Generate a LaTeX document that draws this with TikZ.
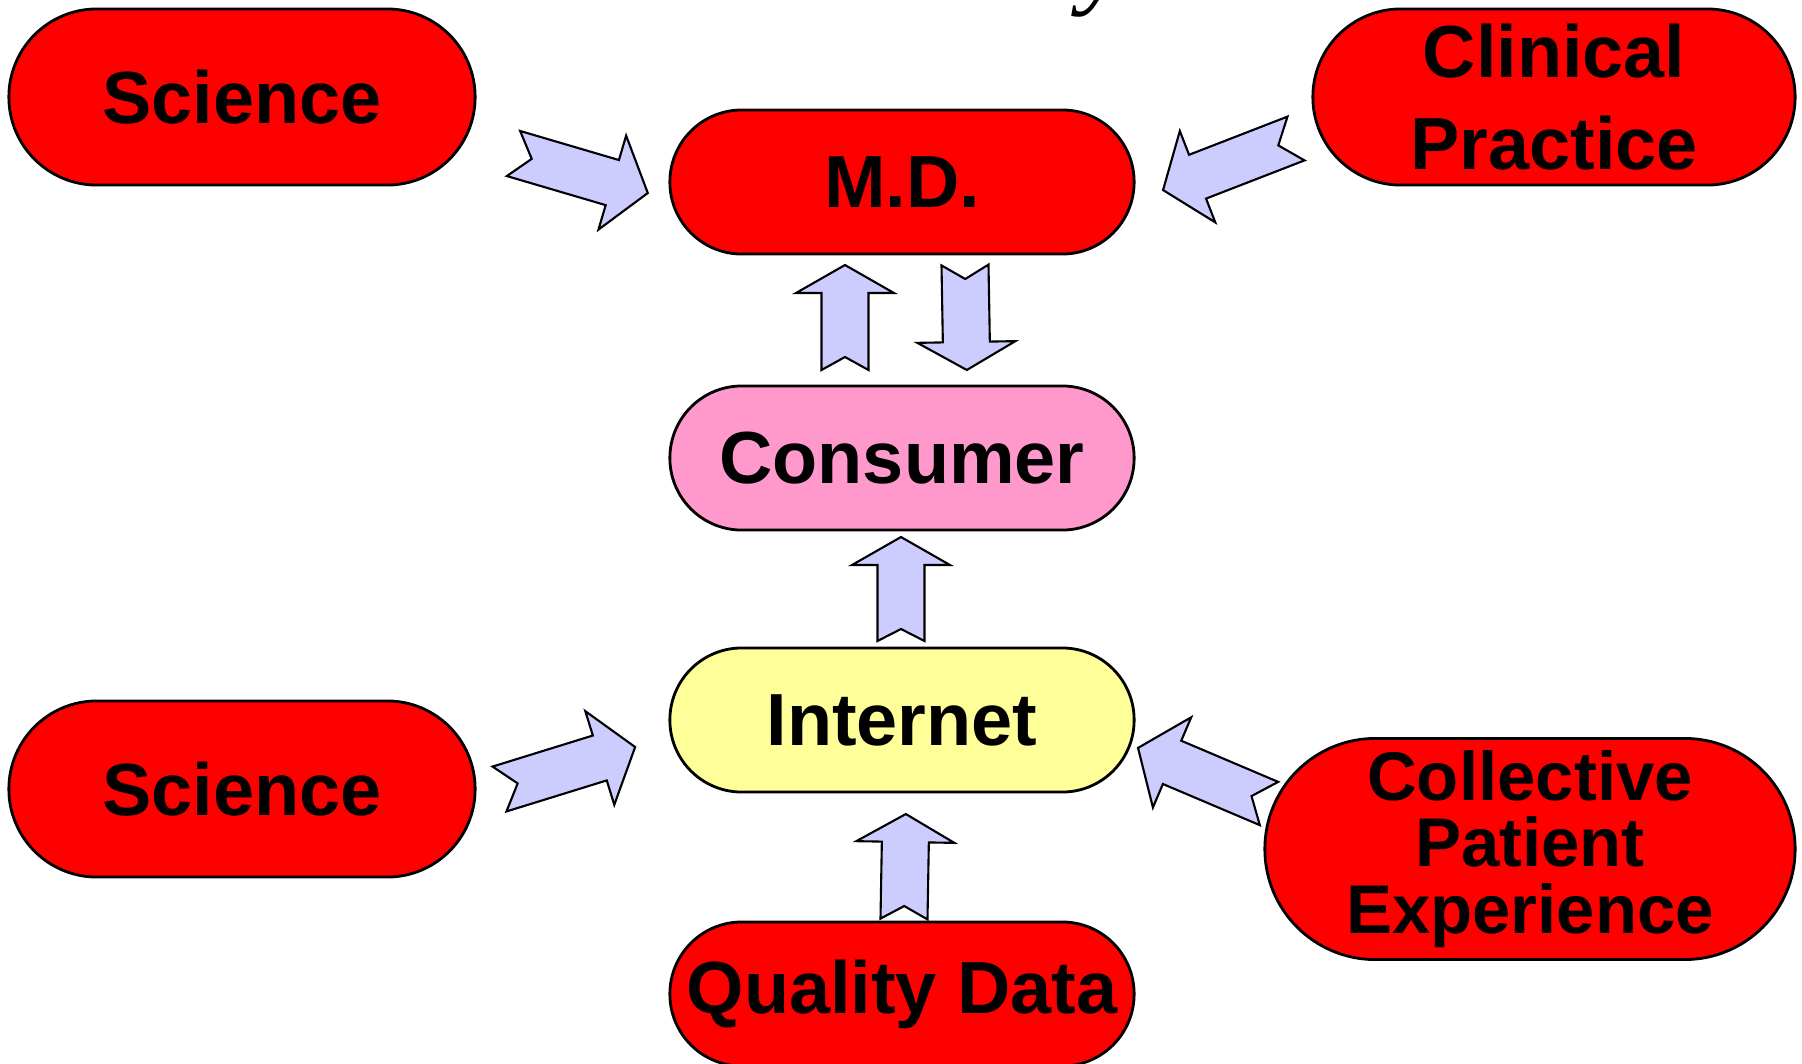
\documentclass[tikz,border=0pt]{standalone}
\usepackage{fontspec}
\setmainfont{Liberation Sans}
\newfontfamily\fragfont{Liberation Serif}
\definecolor{boxred}{RGB}{255,0,0}
\definecolor{boxpink}{RGB}{255,153,204}
\definecolor{boxyellow}{RGB}{255,255,153}
\definecolor{arrowblue}{RGB}{204,204,255}

\tikzset{
  pill/.style={draw=black, line width=0.8pt, align=center, inner sep=0pt,
    font=\fontsize{21}{25}\selectfont\bfseries},
  fatarrow/.style={draw=black, line width=0.6pt, fill=arrowblue, line join=miter},
}

% block arrow: tail point, angle, length, head length, notch depth
\newcommand{\bigarrow}[5]{%
  \filldraw[fatarrow, shift={#1}, rotate=#2]
    (0,23.5) -- (#5,0) -- (0,-23.5) -- ({#3-#4},-23.5) -- ({#3-#4},-49)
    -- (#3,0) -- ({#3-#4},49) -- ({#3-#4},23.5) -- cycle;}

\begin{document}
\begin{tikzpicture}[x=0.01cm,y=-0.01cm,line join=round]
        \clip (0,0) rectangle (1802,1063);
        % left column
        \node[pill, fill=boxred, minimum width=4.66cm, minimum height=1.76cm, rounded corners=0.879cm] (sciA) at (242,97) {Science};
        \node[pill, fill=boxred, minimum width=4.66cm, minimum height=1.76cm, rounded corners=0.879cm] (sciB) at (242,789) {Science};
        % middle column
        \node[pill, fill=boxred, minimum width=4.64cm, minimum height=1.44cm, rounded corners=0.719cm] (md) at (902,182) {M.D.};
        \node[pill, fill=boxpink, minimum width=4.64cm, minimum height=1.44cm, rounded corners=0.719cm] (consumer) at (902,458) {Consumer};
        \node[pill, fill=boxyellow, minimum width=4.64cm, minimum height=1.44cm, rounded corners=0.719cm] (internet) at (902,720) {Internet};
        \node[pill, fill=boxred, minimum width=4.64cm, minimum height=1.44cm, rounded corners=0.719cm] (quality) at (902,994) {Quality Data};
        % right column
        \node[pill, fill=boxred, minimum width=4.82cm, minimum height=1.76cm, rounded corners=0.879cm,
          font=\fontsize{21}{26}\selectfont\bfseries] (clinic) at (1554,97) {Clinical\\Practice};
        \node[pill, fill=boxred, minimum width=5.30cm, minimum height=2.21cm, rounded corners=1.104cm,
          font=\fontsize{19.6}{19}\selectfont\bfseries] (collect) at (1530,849) {Collective\\Patient\\Experience};
        % cut-off text at the top edge
        \node[anchor=base west, inner sep=0pt, font=\fragfont\itshape\fontsize{30}{30}\selectfont] (frag) at (1080,-6) {y};
        % arrows
        \bigarrow{(513.5,153.5)}{-16.4}{140}{37}{19}
        \bigarrow{(1296,138.5)}{201.2}{142.6}{37}{19}
        \bigarrow{(845,370)}{90}{105}{28}{13}
        \bigarrow{(965,265)}{-89}{105}{28}{14}
        \bigarrow{(901,641)}{90}{104}{28}{12}
        \bigarrow{(499.5,789)}{17.2}{142}{37}{19}
        \bigarrow{(1269,803.5)}{157}{142.3}{37}{19}
        \bigarrow{(904,919)}{89}{105}{28}{13}
\end{tikzpicture}
\end{document}
